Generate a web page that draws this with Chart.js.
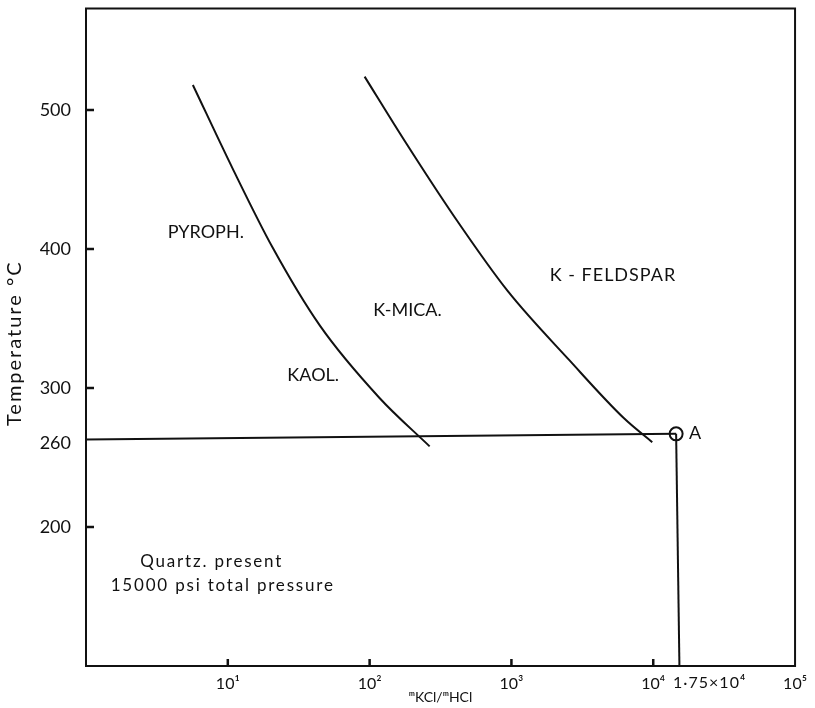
<!DOCTYPE html>
<html>
<head>
<meta charset="utf-8">
<script src="https://cdn.jsdelivr.net/npm/chart.js@4/dist/chart.umd.min.js"></script>
<style>
  html, body { margin: 0; padding: 0; background: #fff; }
  #wrap { width: 815px; height: 708px; }
</style>
</head>
<body>
<div id="wrap"><canvas id="chart"></canvas></div>
<script>
// mKCl/mHCl ratio vs temperature, quartz present, 15000 psi

// pyrophyllite/kaolinite -> K-mica boundary
const micaBoundaryX = [5.67, 10.8, 20.7, 44.5, 117, 265];
const micaBoundaryT = [518, 458, 401, 345, 293, 258];

// K-mica -> K-feldspar boundary
const feldsparBoundaryX = [92.2, 176, 397, 937, 2560, 6250, 9840];
const feldsparBoundaryT = [524, 478, 423, 370, 320, 278, 261];

// 260 C isotherm, point A and the drop to the axis
const isothermX = [1, 14500];
const isothermT = [263, 267];
const pointAX = [14500];
const pointAT = [267];
const dropX = [14500, 15300];
const dropT = [267, 100];

const xTicks = [10, 100, 1000, 10000, 100000];
const xTickLabels = ["10¹", "10²", "10³", "10⁴", "10⁵"];
const yTicks = [200, 260, 300, 400, 500];
const yTickMarks = [200, 300, 400, 500];

const regionNames = ["PYROPH.", "KAOL.", "K-MICA.", "K - FELDSPAR", "Quartz. present", "15000 psi total pressure"];
const regionX = [7.0, 40, 185, 5200, 7.7, 9.2];
const regionT = [412, 309, 356, 381, 175, 158];

const FONT = "Lato, 'DejaVu Sans', sans-serif";
const INK = "#111";

function pts(xs, ys) {
    return xs.map((x, i) => ({ x: x, y: ys[i] }));
}

const lineStyle = { borderColor: INK, borderWidth: 2, pointRadius: 0, showLine: true, fill: false };

const framePlugin = {
    id: "frame",
    afterDraw(chart) {
        const ctx = chart.ctx;
        const a = chart.chartArea;
        const xs = chart.scales.x;
        const ys = chart.scales.y;
        ctx.save();
        ctx.strokeStyle = INK;
        ctx.lineWidth = 2;
        ctx.strokeRect(a.left, a.top, a.right - a.left, a.bottom - a.top);

        // inward tick marks
        ctx.lineWidth = 2.5;
        ctx.beginPath();
        yTickMarks.forEach(v => {
            const py = ys.getPixelForValue(v);
            ctx.moveTo(a.left, py);
            ctx.lineTo(a.left + 8, py);
        });
        xTicks.slice(0, 4).forEach(v => {
            const px = xs.getPixelForValue(v);
            ctx.moveTo(px, a.bottom);
            ctx.lineTo(px, a.bottom - 7);
        });
        ctx.stroke();

        // region labels
        ctx.fillStyle = INK;
        ctx.textAlign = "center";
        ctx.textBaseline = "middle";
        regionNames.forEach((name, i) => {
            if (i >= 4) {
                ctx.font = "17px " + FONT;
                ctx.letterSpacing = "1.8px";
            } else {
                ctx.font = "18px " + FONT;
                ctx.letterSpacing = i === 3 ? "1px" : "0px";
            }
            ctx.fillText(name, xs.getPixelForValue(regionX[i]), ys.getPixelForValue(regionT[i]));
        });

        // point A label
        ctx.letterSpacing = "0px";
        ctx.font = "18px " + FONT;
        ctx.textAlign = "left";
        ctx.fillText("A", xs.getPixelForValue(pointAX[0]) + 13, ys.getPixelForValue(pointAT[0]) - 1);

        // extra axis note
        ctx.font = "16px " + FONT;
        ctx.letterSpacing = "1px";
        ctx.textAlign = "center";
        ctx.fillText("1·75×10⁴", xs.getPixelForValue(25000), a.bottom + 17);

        // y axis title
        ctx.save();
        ctx.translate(15, (a.top + a.bottom) / 2 + 6);
        ctx.rotate(-Math.PI / 2);
        ctx.font = "20px " + FONT;
        ctx.letterSpacing = "2px";
        ctx.fillText("Temperature °C", 0, 0);
        ctx.restore();
        ctx.restore();
    }
};

new Chart(document.getElementById("chart"), {
    type: "scatter",
    data: {
        datasets: [
            Object.assign({ data: pts(micaBoundaryX, micaBoundaryT), cubicInterpolationMode: "monotone" }, lineStyle),
            Object.assign({ data: pts(feldsparBoundaryX, feldsparBoundaryT), cubicInterpolationMode: "monotone" }, lineStyle),
            Object.assign({ data: pts(isothermX, isothermT) }, lineStyle),
            Object.assign({ data: pts(dropX, dropT) }, lineStyle),
            {
                data: pts(pointAX, pointAT),
                pointRadius: 6.5,
                pointBorderWidth: 2,
                pointBorderColor: INK,
                pointBackgroundColor: "#fff",
                showLine: false
            }
        ]
    },
    options: {
        responsive: true,
        maintainAspectRatio: false,
        animation: false,
        layout: { padding: { top: 8, right: 19, left: 0, bottom: 0 } },
        plugins: {
            legend: { display: false },
            tooltip: { enabled: false }
        },
        scales: {
            x: {
                type: "logarithmic",
                min: 1,
                max: 100000,
                afterBuildTicks: s => { s.ticks = xTicks.map(v => ({ value: v })); },
                afterFit: s => { s.height = 42; },
                grid: { display: false, drawTicks: false },
                border: { display: false },
                ticks: {
                    color: INK,
                    padding: 8,
                    maxRotation: 0,
                    autoSkip: false,
                    font: { family: FONT, size: 16 },
                    callback: v => xTickLabels[xTicks.indexOf(v)]
                },
                title: {
                    display: true,
                    text: "ᵐKCl/ᵐHCl",
                    color: INK,
                    padding: { top: 0, bottom: 2 },
                    font: { family: FONT, size: 14 }
                }
            },
            y: {
                type: "linear",
                min: 100,
                max: 573,
                afterBuildTicks: s => { s.ticks = yTicks.map(v => ({ value: v })); },
                afterFit: s => { s.width = 86; s.paddingTop = 0; s.paddingBottom = 0; },
                grid: { display: false, drawTicks: false },
                border: { display: false },
                ticks: {
                    color: INK,
                    padding: 15,
                    autoSkip: false,
                    font: { family: FONT, size: 18 }
                }
            }
        }
    },
    plugins: [framePlugin]
});
</script>
</body>
</html>
